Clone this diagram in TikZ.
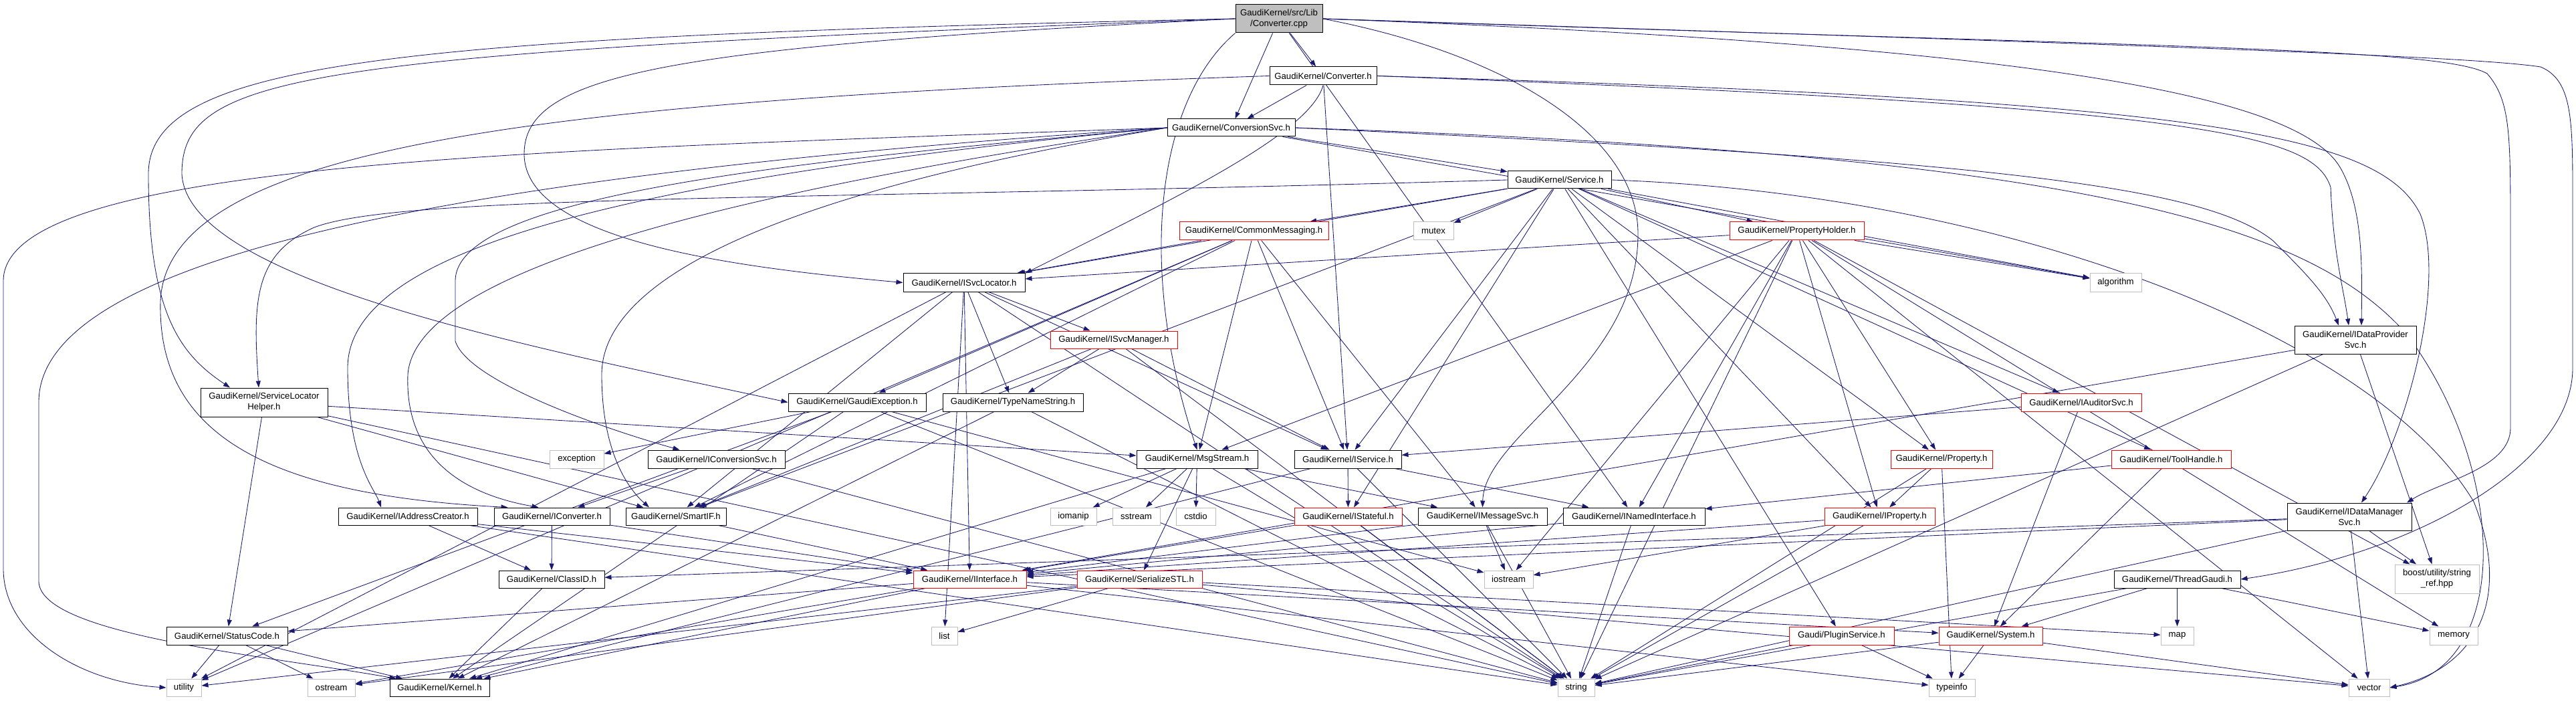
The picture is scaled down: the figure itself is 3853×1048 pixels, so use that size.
\documentclass[tikz,border=0pt]{standalone}
\usepackage{fontspec}
\setmainfont{Liberation Sans}
\usetikzlibrary{arrows.meta}
\definecolor{edgeblue}{HTML}{191970}
\definecolor{lgray}{HTML}{BFBFBF}
\pgfdeclarelayer{bg}
\pgfsetlayers{bg,main}
\newcommand{\gfnt}{\fontsize{13.2}{16}\selectfont}
\tikzset{
  nb/.style={draw=black, fill=white, line width=1pt, inner sep=0pt, align=center, font=\gfnt},
  nr/.style={nb, draw=red},
  ng/.style={nb, draw=lgray},
  nroot/.style={nb, fill=lgray},
  e/.style={draw=edgeblue, line width=0.85pt, -{Triangle[length=10pt,width=7pt]}}
}
\begin{document}
\begin{tikzpicture}[x=1pt,y=-1pt]
\useasboundingbox (0,0) rectangle (3853,1048);
\node[nroot, minimum width=130pt, minimum height=42pt] (cpp) at (1913,28) {GaudiKernel/src/Lib\\/Converter.cpp};
\node[nb, minimum width=160pt, minimum height=27pt] (conv) at (1979,113.5) {GaudiKernel/Converter.h};
\node[nb, minimum width=191pt, minimum height=26pt] (csvc) at (1841.5,191) {GaudiKernel/ConversionSvc.h};
\node[nb, minimum width=155pt, minimum height=26pt] (svc) at (2332.5,269) {GaudiKernel/Service.h};
\node[nr, minimum width=223pt, minimum height=27pt] (cmsg) at (1875.5,345.5) {GaudiKernel/CommonMessaging.h};
\node[ng, minimum width=60pt, minimum height=27pt] (mutex) at (2144,345.5) {mutex};
\node[nr, minimum width=201pt, minimum height=27pt] (ph) at (2687.5,345.5) {GaudiKernel/PropertyHolder.h};
\node[ng, minimum width=77pt, minimum height=27pt] (algo) at (3164.5,422.5) {algorithm};
\node[nb, minimum width=182pt, minimum height=27pt] (isl) at (1442,422.5) {GaudiKernel/ISvcLocator.h};
\node[nb, minimum width=182pt, minimum height=42pt] (idp) at (3523,508) {GaudiKernel/IDataProvider\\Svc.h};
\node[nb, minimum width=190pt, minimum height=43pt] (slh) at (395,601.5) {GaudiKernel/ServiceLocator\\Helper.h};
\node[nb, minimum width=206pt, minimum height=27pt] (gex) at (1282,601.5) {GaudiKernel/GaudiException.h};
\node[nb, minimum width=210pt, minimum height=27pt] (tns) at (1515,601.5) {GaudiKernel/TypeNameString.h};
\node[nr, minimum width=190pt, minimum height=26pt] (ism) at (1666,508) {GaudiKernel/ISvcManager.h};
\node[nr, minimum width=180pt, minimum height=27pt] (iaud) at (3113,601.5) {GaudiKernel/IAuditorSvc.h};
\node[ng, minimum width=81pt, minimum height=27pt] (exc) at (862.5,686.5) {exception};
\node[nb, minimum width=205pt, minimum height=27pt] (icsvc) at (1071.5,686.5) {GaudiKernel/IConversionSvc.h};
\node[nb, minimum width=181pt, minimum height=27pt] (msg) at (1790.5,686.5) {GaudiKernel/MsgStream.h};
\node[nb, minimum width=160pt, minimum height=27pt] (isvc) at (2016,686.5) {GaudiKernel/IService.h};
\node[nr, minimum width=152pt, minimum height=27pt] (prop) at (2904,686.5) {GaudiKernel/Property.h};
\node[nr, minimum width=179pt, minimum height=27pt] (th) at (3247.5,686.5) {GaudiKernel/ToolHandle.h};
\node[nb, minimum width=208pt, minimum height=26pt] (iac) at (610,772) {GaudiKernel/IAddressCreator.h};
\node[nb, minimum width=173pt, minimum height=26pt] (icv) at (825.5,772) {GaudiKernel/IConverter.h};
\node[nb, minimum width=150pt, minimum height=26pt] (sif) at (1011,772) {GaudiKernel/SmartIF.h};
\node[ng, minimum width=69pt, minimum height=26pt] (iomanip) at (1605.5,772) {iomanip};
\node[ng, minimum width=71pt, minimum height=26pt] (sstream) at (1699.5,772) {sstream};
\node[ng, minimum width=59pt, minimum height=26pt] (cstdio) at (1788.5,772) {cstdio};
\node[nr, minimum width=161pt, minimum height=26pt] (ist) at (2016.5,772) {GaudiKernel/IStateful.h};
\node[nb, minimum width=193pt, minimum height=26pt] (ims) at (2217.5,772) {GaudiKernel/IMessageSvc.h};
\node[nb, minimum width=212pt, minimum height=26pt] (ini) at (2444,772) {GaudiKernel/INamedInterface.h};
\node[nr, minimum width=165pt, minimum height=26pt] (iprop) at (2811.5,772) {GaudiKernel/IProperty.h};
\node[nb, minimum width=186pt, minimum height=41pt] (idm) at (3514,772.5) {GaudiKernel/IDataManager\\Svc.h};
\node[nb, minimum width=158pt, minimum height=26pt] (cid) at (825,866) {GaudiKernel/ClassID.h};
\node[nr, minimum width=169pt, minimum height=26pt] (iif) at (1450.5,866) {GaudiKernel/IInterface.h};
\node[nr, minimum width=187pt, minimum height=26pt] (sstl) at (1704.5,866) {GaudiKernel/SerializeSTL.h};
\node[ng, minimum width=73pt, minimum height=26pt] (iostream) at (2256.5,866) {iostream};
\node[nb, minimum width=189pt, minimum height=26pt] (tg) at (3256.5,866) {GaudiKernel/ThreadGaudi.h};
\node[ng, minimum width=126pt, minimum height=43pt] (boost) at (3645,865.5) {boost/utility/string\\\_ref.hpp};
\node[nb, minimum width=181pt, minimum height=27pt] (sc) at (339.5,950.5) {GaudiKernel/StatusCode.h};
\node[ng, minimum width=39pt, minimum height=27pt] (list) at (1412.5,950.5) {list};
\node[nr, minimum width=157pt, minimum height=27pt] (plug) at (2754.5,950.5) {Gaudi/PluginService.h};
\node[nr, minimum width=155pt, minimum height=27pt] (sys) at (2977.5,950.5) {GaudiKernel/System.h};
\node[ng, minimum width=49pt, minimum height=27pt] (map) at (3256.5,950.5) {map};
\node[ng, minimum width=72pt, minimum height=27pt] (memory) at (3670,950.5) {memory};
\node[ng, minimum width=52pt, minimum height=26pt] (utility) at (275,1028) {utility};
\node[ng, minimum width=71pt, minimum height=26pt] (ostream) at (495.5,1028) {ostream};
\node[nb, minimum width=149pt, minimum height=26pt] (kern) at (657.5,1028) {GaudiKernel/Kernel.h};
\node[ng, minimum width=55pt, minimum height=26pt] (string) at (2357.5,1028) {string};
\node[ng, minimum width=69pt, minimum height=26pt] (typeinfo) at (2919.5,1028) {typeinfo};
\node[ng, minimum width=61pt, minimum height=26pt] (vector) at (3543.5,1028) {vector};

\begin{pgfonlayer}{bg}
\foreach \a/\b in {cpp/conv, cpp/csvc, cpp/ini,
  conv/csvc, conv/isvc,
  csvc/svc, csvc/algo,
  svc/cmsg, svc/mutex, svc/ph, svc/isl, svc/isvc, svc/ist, svc/iprop, svc/prop, svc/iaud, svc/th, svc/sif, svc/algo, svc/plug,
  cmsg/isl, cmsg/gex, cmsg/msg, cmsg/ims, cmsg/isvc, cmsg/sif, cmsg/utility,
  ph/isl, ph/ini, ph/iprop, ph/prop, ph/algo, ph/iostream, ph/string, ph/vector, ph/boost, ph/msg, ph/memory,
  isl/isvc, isl/ism, isl/tns, isl/list, isl/sif, isl/iif, isl/string, isl/utility,
  ism/tns, ism/isvc, ism/sif, ism/string,
  gex/exc, gex/sc, gex/kern, gex/string, gex/iostream,
  tns/kern, tns/string,
  iaud/isvc, iaud/sys,
  th/ini, th/sys,
  prop/iprop, prop/string, prop/typeinfo,
  icsvc/icv, icsvc/string,
  msg/ims, msg/sstl, msg/iomanip, msg/sstream, msg/cstdio, msg/string, msg/kern,
  isvc/ini, isvc/ist, isvc/kern, isvc/string,
  iac/cid, iac/iif, iac/string,
  icv/cid, icv/iif,
  sif/iif,
  ist/iif, ist/string,
  ims/iif, ims/iostream, ims/string,
  ini/iif, ini/string,
  iprop/iif, iprop/iostream, iprop/string,
  idp/iif, idp/string, idp/boost,
  idm/cid, idm/iif, idm/string, idm/vector, idm/boost,
  cid/kern,
  iif/kern, iif/sc, iif/sys, iif/ostream, iif/typeinfo,
  sstl/list, sstl/map, sstl/vector, sstl/ostream, sstl/utility,
  tg/sys, tg/map, tg/memory, tg/string,
  sc/utility, sc/ostream, sc/kern,
  plug/typeinfo, plug/string,
  sys/typeinfo, sys/vector, sys/string,
  slh/msg, slh/sc, slh/sif, slh/string}
  {\draw[e] (\a) -- (\b);}
% left loops
\draw[e] (cpp.west) .. controls (600,55) and (222,90) .. (222,260) .. controls (222,470) and (270,530) .. ([xshift=-51pt]slh.north);
\draw[e] (cpp.west) .. controls (450,80) and (272,110) .. (272,260) .. controls (280,420) and (800,520) .. (gex.west);
\draw[e] (cpp.west) .. controls (1000,70) and (784,110) .. (784,230) .. controls (784,360) and (1100,400) .. (isl.west);
\draw[e] (conv.west) .. controls (800,150) and (250,220) .. (240,450) .. controls (235,650) and (400,740) .. ([xshift=-66pt]icv.north);
\draw[e] (csvc.west) .. controls (800,225) and (5,240) .. (5,420) -- (5,850) .. controls (5,950) and (120,1020) .. (utility.west);
\draw[e] (csvc.west) .. controls (700,260) and (60,380) .. (58,600) -- (58,870) .. controls (62,950) and (400,980) .. ([xshift=-65pt]kern.north);
\draw[e] (svc.west) .. controls (1200,300) and (600,290) .. (470,340) .. controls (380,380) and (378,450) .. ([xshift=-8pt]slh.north);
\draw[e] (csvc.west) .. controls (1200,240) and (681,290) .. (681,420) -- (681,510) .. controls (700,570) and (900,640) .. ([xshift=-55pt]icsvc.north);
\draw[e] (csvc.west) .. controls (900,270) and (520,380) .. (520,550) .. controls (520,690) and (560,730) .. ([xshift=-40pt]iac.north);
\draw[e] (csvc.west) .. controls (1000,300) and (620,420) .. (610,560) .. controls (605,690) and (700,740) .. ([xshift=-20pt]icv.north);
\draw[e] (csvc.west) .. controls (1150,290) and (900,420) .. (900,560) .. controls (900,690) and (950,740) .. ([xshift=-40pt]sif.north);
% right loops
\draw[e] (cpp.east) .. controls (3100,70) and (3440,150) .. (3500,250) .. controls (3535,310) and (3533,400) .. ([xshift=9pt]idp.north);
\draw[e] (cpp.east) .. controls (3200,70) and (3650,70) .. (3720,110) .. controls (3755,150) and (3755,200) .. (3755,350) -- (3755,640) .. controls (3755,700) and (3650,720) .. ([xshift=86pt]idm.north);
\draw[e] (cpp.east) .. controls (3300,70) and (3700,85) .. (3800,100) .. controls (3848,120) and (3848,180) .. (3848,300) -- (3848,550) .. controls (3848,700) and (3600,830) .. (tg.east);
\draw[e] (conv.east) .. controls (3300,150) and (3560,200) .. (3620,320) .. controls (3660,420) and (3600,650) .. ([xshift=18pt]idm.north);
\draw[e] (conv.east) .. controls (3300,160) and (3460,200) .. (3486,280) .. controls (3490,380) and (3505,430) .. ([xshift=-10pt]idp.north);
\draw[e] (csvc.east) .. controls (3000,240) and (3300,280) .. (3400,360) .. controls (3450,410) and (3480,440) .. ([xshift=-25pt]idp.north);
\draw[e] (csvc.east) .. controls (3100,230) and (3450,330) .. (3600,500) .. controls (3750,700) and (3760,1000) .. (vector.east);
\draw[e] (svc.east) .. controls (3000,290) and (3550,500) .. (3700,750) .. controls (3760,900) and (3700,1000) .. (vector.east);
% other curves
\draw[e] (cpp.east) .. controls (2250,80) and (2450,200) .. (2450,350) .. controls (2450,550) and (2220,650) .. (ims.north);
\draw[e] (cpp.south west) .. controls (1730,150) and (1700,400) .. (msg.north);
\draw[e] (conv.south) .. controls (1960,200) and (1750,300) .. (isl.north east);
\end{pgfonlayer}
\end{tikzpicture}
\end{document}
